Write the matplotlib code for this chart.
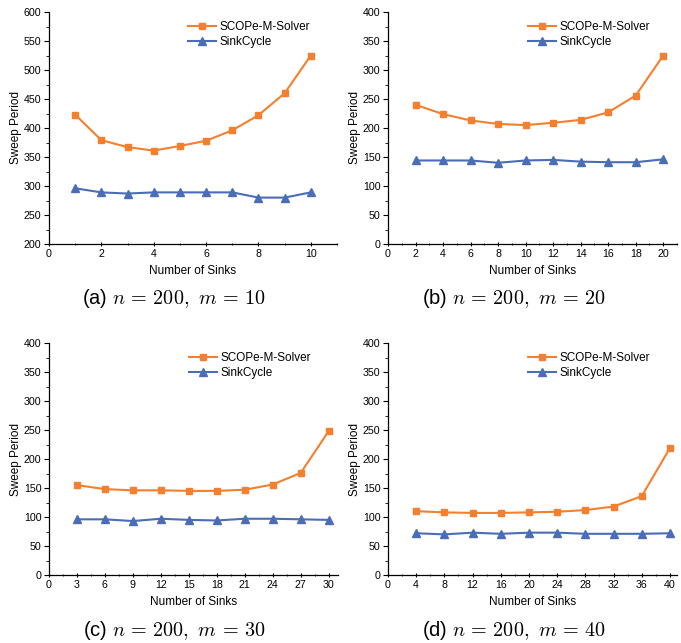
import matplotlib
matplotlib.use("Agg")
import matplotlib.pyplot as plt
from matplotlib.ticker import MultipleLocator, AutoMinorLocator

plt.rcParams["font.family"] = ["Liberation Sans", "DejaVu Sans"]
plt.rcParams["mathtext.fontset"] = "cm"

# Werte
x_a = [1, 2, 3, 4, 5, 6, 7, 8, 9, 10]
scope_a = [423, 379, 367, 361, 369, 378, 396, 422, 460, 525]
sink_a = [296, 289, 287, 289, 289, 289, 289, 280, 280, 289]

x_b = [2, 4, 6, 8, 10, 12, 14, 16, 18, 20]
scope_b = [240, 224, 213, 207, 205, 209, 214, 227, 256, 325]
sink_b = [144, 144, 144, 140, 144, 145, 142, 141, 141, 146]

x_c = [3, 6, 9, 12, 15, 18, 21, 24, 27, 30]
scope_c = [155, 148, 146, 146, 145, 145, 147, 156, 176, 248]
sink_c = [96, 96, 93, 97, 95, 94, 97, 97, 96, 95]

x_d = [4, 8, 12, 16, 20, 24, 28, 32, 36, 40]
scope_d = [110, 108, 107, 107, 108, 109, 112, 118, 136, 219]
sink_d = [72, 70, 73, 71, 73, 73, 71, 71, 71, 72]

captions = [r"(a) $n\,=\,200,\ m\,=\,10$", r"(b) $n\,=\,200,\ m\,=\,20$",
            r"(c) $n\,=\,200,\ m\,=\,30$", r"(d) $n\,=\,200,\ m\,=\,40$"]

ORANGE = "#F47F2E"
BLUE = "#4A6DB6"

W, H = 681, 643
fig = plt.figure(figsize=(W / 100, H / 100), dpi=100)

# Achsen-Rechtecke in Pixeln (links, oben, rechts, unten)
boxes = [(49, 12, 337, 244), (388, 12, 677, 244),
         (49, 343, 338, 575), (388, 343, 677, 575)]
panels = [
    (x_a, scope_a, sink_a, (200, 600), 50, 11, 2),
    (x_b, scope_b, sink_b, (0, 400), 50, 21, 2),
    (x_c, scope_c, sink_c, (0, 400), 50, 31, 3),
    (x_d, scope_d, sink_d, (0, 400), 50, 41, 4),
]
cap_x = [174, 514, 174, 514]
cap_y = [298, 298, 630, 630]

for i, (box, (x, s1, s2, ylim, ystep, xmax, xstep)) in enumerate(zip(boxes, panels)):
    l, t, r, b = box
    ax = fig.add_axes([l / W, 1 - b / H, (r - l) / W, (b - t) / H])
    ax.plot(x, s1, color=ORANGE, marker="s", ms=4.8, lw=1.5, label="SCOPe-M-Solver")
    ax.plot(x, s2, color=BLUE, marker="^", ms=5.2, lw=1.5, label="SinkCycle")
    ax.set_xlim(0, xmax)
    ax.set_ylim(*ylim)
    ax.xaxis.set_major_locator(MultipleLocator(xstep))
    ax.xaxis.set_minor_locator(AutoMinorLocator(2))
    ax.yaxis.set_major_locator(MultipleLocator(ystep))
    ax.yaxis.set_minor_locator(AutoMinorLocator(2))
    for side in ("top", "right"):
        ax.spines[side].set_visible(False)
    for side in ("left", "bottom"):
        ax.spines[side].set_linewidth(0.9)
    ax.tick_params(axis="both", which="major", labelsize=7.7, length=3.5, width=0.8, pad=2)
    ax.tick_params(axis="both", which="minor", length=2, width=0.6)
    ax.tick_params(axis="x", which="both", direction="inout")
    ax.set_xlabel("Number of Sinks", fontsize=8.5, labelpad=4)
    ax.set_ylabel("Sweep Period", fontsize=8.5, labelpad=1.5)
    ax.legend(loc="upper right", bbox_to_anchor=(0.94, 1.0), frameon=False, fontsize=8.5,
              handlelength=2.4, handletextpad=0.3, labelspacing=0.25, borderaxespad=0.4)
    fig.text(cap_x[i] / W, 1 - cap_y[i] / H, captions[i], ha="center", va="center", fontsize=14.5)

fig.savefig("out.png", dpi=100)
